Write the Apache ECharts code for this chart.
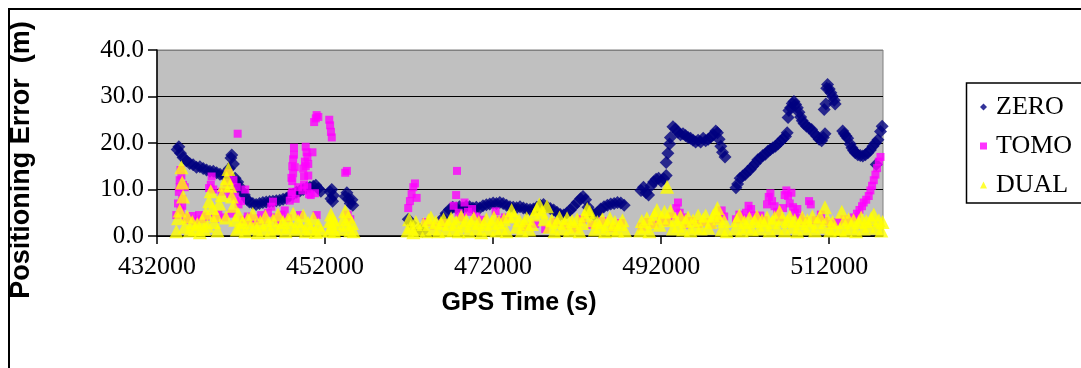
<!DOCTYPE html>
<html>
<head>
<meta charset="utf-8">
<script src="https://cdn.jsdelivr.net/npm/echarts@6/dist/echarts.min.js"></script>
<style>
  html, body { margin: 0; padding: 0; background: #fff; }
  #chart { width: 1081px; height: 368px; }
</style>
</head>
<body>
<div id="chart"></div>
<script>
// Positioning error (m) against GPS time of week (s) for three ionosphere models.
const seriesNames = ['ZERO', 'TOMO', 'DUAL'];
const xTicks = [432000, 452000, 472000, 492000, 512000];
const yTicks = [0, 10, 20, 30, 40];

// [GPS time (s), positioning error (m)]
const zeroPoints = [
  [434400,18.6],[434600,19.2],[434800,17.8],[435100,16.9],[435500,16.2],[435900,15.6],[436300,15.3],
  [436700,14.8],[437100,14.9],[437500,14.5],[437900,14.2],[438300,13.9],[438700,13.9],[439100,13.6],
  [439500,13.3],[439900,13.1],[440300,12.9],[440600,14.5],[440800,16.8],[440900,17.4],[441100,15.5],
  [441300,12.4],[441600,11.6],[441800,10.7],[442100,9.7],[442400,8.8],[442700,7.9],[443000,7.3],
  [443400,7.0],[443800,6.8],[444200,7.0],[444600,7.2],[445000,7.3],[445400,7.4],[445800,7.5],
  [446200,7.6],[446600,7.7],[447000,7.9],[447400,8.1],[447800,8.6],[448200,9.0],[448600,9.4],
  [449000,9.7],[449400,10.0],[449800,10.3],[450200,10.5],[450600,10.7],[450900,10.9],[451200,10.2],
  [451500,9.6],
  [452600,9.5],[452700,8.0],[452800,10.0],[452900,7.5],[453000,8.7],
  [454400,8.5],[454600,9.3],[454800,8.0],[455000,7.0],[455200,7.8],[455300,6.6],
  [461900,3.6],[462200,2.8],[463300,1.4],[463600,1.0],
  [466000,3.8],[466400,4.9],[466800,5.7],[467200,6.2],[467600,6.0],[468000,6.3],[468400,6.1],
  [468800,6.4],[469200,6.3],[469600,6.0],[470000,6.2],[470400,6.0],[470800,6.5],[471200,6.7],
  [471600,6.9],[472000,7.1],[472400,7.0],[472800,7.2],[473200,7.0],[473600,6.6],[474000,6.3],
  [474400,6.2],[474800,6.1],[475200,6.3],[475600,6.0],[476000,5.8],[476400,5.7],[476800,5.8],
  [477200,6.2],[477600,6.6],[478000,6.8],[478400,6.3],[478800,5.9],[479200,5.6],[479600,5.1],
  [480000,4.6],[480400,4.5],[480800,5.0],[481200,5.6],[481600,6.4],[482000,7.2],[482400,8.0],
  [482700,8.5],[483000,7.8],[483300,6.2],[483600,5.0],[484000,4.6],[484400,5.0],[484800,5.8],
  [485200,6.3],[485600,6.6],[486000,6.9],[486400,7.0],[486800,7.2],[487200,7.1],[487600,6.6],
  [489600,9.8],[489900,10.5],[490200,9.3],[490500,8.8],[490800,10.8],[491100,11.6],[491400,12.2],
  [491700,12.4],[492000,11.8],[492300,12.3],[492600,13.0],[492600,15.8],[492800,17.8],[493000,19.8],
  [493100,21.2],[493400,23.5],[493700,23.0],[494000,22.3],[494300,21.8],[494600,22.0],[494900,21.6],
  [495200,21.2],[495500,21.0],[495800,20.6],[496100,20.2],[496400,20.6],[496700,20.2],[497000,21.0],
  [497300,20.5],[497600,20.8],[497900,21.3],[498200,21.8],[498500,22.6],[498700,22.2],[498900,20.8],
  [499100,19.3],[499300,18.0],[499600,17.0],
  [500900,10.4],[501100,11.2],[501400,12.4],[501700,12.9],[502000,13.2],[502300,13.9],[502600,14.3],
  [502900,15.0],[503200,15.6],[503500,16.4],[503800,16.7],[504100,17.3],[504400,17.6],[504700,18.2],
  [505000,18.6],[505300,19.0],[505600,19.3],[505900,19.8],[506200,20.4],[506500,20.9],[506800,21.4],
  [507000,22.2],[507100,25.5],[507200,27.0],[507400,27.6],[507600,28.5],[507800,28.9],[508000,28.3],
  [508200,27.6],[508400,26.6],[508600,25.6],[508800,24.8],[509000,24.2],[509300,23.6],[509600,23.2],
  [509900,22.9],[510200,22.1],[510500,21.5],[510800,20.8],[511100,20.5],[511300,21.2],[511500,22.0],
  [511400,27.2],[511600,28.4],[511700,31.8],[511800,32.6],[512000,31.6],[512200,30.8],[512400,30.0],
  [512600,29.2],[512700,28.4],
  [513600,22.6],[513800,22.0],[514000,21.5],[514200,21.0],[514500,19.8],[514700,19.0],[514900,18.4],
  [515100,17.9],[515400,17.5],[515700,17.3],[516000,17.2],[516300,17.5],[516600,17.9],[516900,18.5],
  [517200,19.3],[517500,20.0],[517600,15.4],[517800,20.7],[518100,22.5],[518300,23.6]
];

const tomoPoints = [
  [434300,4.5],[434500,7.0],[434600,9.5],[434700,12.0],[434700,10.5],[434800,14.2],[434800,5.5],
  [434900,13.0],[435000,8.0],[435000,6.5],[435100,11.0],[435300,10.5],[435400,4.0],[435800,3.5],
  [436200,4.3],[436600,3.2],[437000,4.5],[437400,3.6],[437800,4.2],[438200,10.3],[438400,11.0],
  [438500,12.8],[438700,10.0],[438900,3.8],[439300,4.6],[439700,9.5],[440000,4.0],[440300,11.5],
  [440500,13.5],[440700,9.0],[440900,4.8],[441100,12.0],[441300,8.5],[441500,10.5],[441600,22.0],
  [441700,6.8],[442000,7.5],[442300,3.5],[442500,10.0],[442800,4.2],[443200,3.0],[443600,3.8],
  [444000,3.2],[444400,4.5],[444800,3.5],[445200,5.0],[445600,6.3],[445800,7.4],[446000,4.0],
  [446400,3.3],[446800,4.6],[447200,5.5],[447600,3.8],[447800,7.6],[448000,9.0],[448000,12.5],
  [448100,11.8],[448100,15.0],[448100,9.5],[448200,13.5],[448200,16.5],[448300,19.0],[448300,17.5],
  [448400,14.8],[448500,8.0],[448800,10.5],[449000,4.5],[449300,9.8],[449400,14.5],[449500,12.8],
  [449500,11.0],[449600,16.0],[449700,19.2],[449700,15.0],[449800,18.0],[449900,17.0],[449900,10.5],
  [450000,13.0],[450000,15.5],[450100,9.0],[450300,8.8],[450500,18.0],[450700,24.5],[450900,25.3],
  [451000,26.0],[451200,25.6],[450800,9.2],[451000,4.5],[452500,25.0],[452600,23.8],[452700,22.4],
  [452800,21.2],[454400,13.6],[454600,14.0],[454700,4.6],[455000,3.6],
  [461900,6.0],[462100,7.5],[462300,9.0],[462500,10.5],[462700,11.3],[462900,8.2],
  [464000,3.0],[465000,2.2],[466000,2.8],
  [467300,6.5],[467600,8.8],[467700,14.0],[467900,5.0],[468200,4.0],[468600,7.2],[469000,5.2],
  [469500,5.8],[470000,4.2],[470600,3.5],[472300,5.3],[472800,3.4],[473400,4.0],
  [475800,2.0],[477000,2.6],[478200,1.5],[479400,3.0],[480600,2.2],[481800,1.6],[482600,3.6],
  [483800,2.4],[485000,3.2],[486200,1.8],[487200,2.8],
  [489700,2.0],[490400,3.0],[491200,2.5],[492000,3.5],[492600,3.0],[493200,4.2],[493800,6.0],
  [494000,7.2],[494200,5.0],[494600,4.0],[495000,2.5],[495600,3.2],[496400,2.6],[497200,3.0],
  [498000,2.4],[498800,3.6],[499200,5.5],[499500,4.2],
  [500900,3.6],[501300,4.6],[501700,3.8],[502100,5.0],[502400,6.5],[502700,5.8],[503000,4.4],
  [503400,3.8],[503800,4.4],[504200,3.4],[504600,6.8],[504800,8.4],[505000,9.2],[505200,7.5],
  [505500,6.4],[505800,5.2],[506100,4.0],[506500,6.0],[506700,8.8],[506900,9.8],[507100,8.6],
  [507300,7.0],[507500,9.3],[507700,6.2],[507900,5.0],[508200,5.8],[508500,4.0],[509000,3.2],
  [509600,7.5],[509800,6.8],[510400,3.4],[511000,4.6],[511400,3.2],[512200,2.6],[513000,3.0],
  [513800,3.6],[514400,3.0],[514900,4.0],[515300,4.8],[515600,5.6],[515900,6.4],[516100,7.2],
  [516400,7.8],[516700,8.6],[516900,9.8],[517100,10.8],[517300,12.0],[517500,13.2],[517700,14.6],
  [517900,16.0],[518100,17.0]
];

const dualPoints = [
  [434300,1.0],[434500,3.8],[434700,5.5],[434900,14.8],[435000,11.5],[435100,8.5],[435300,2.0],
  [435600,4.2],[435900,1.2],[436200,3.0],[436500,1.5],[436800,2.6],[437100,0.8],[437400,3.2],
  [437600,1.5],[437800,5.0],[438000,2.2],[438200,7.5],[438400,9.6],[438600,6.0],[438800,3.0],
  [439000,4.5],[439200,1.2],[439400,7.0],[439700,8.8],[440000,11.0],[440200,4.0],[440300,12.5],
  [440500,14.4],[440700,10.8],[440900,8.5],[441100,6.5],[441300,3.5],[441500,1.4],[441700,4.6],
  [441900,2.0],[442200,3.0],[442500,1.0],[442800,3.6],[443100,1.8],[443400,4.8],[443700,2.2],
  [444000,0.8],[444300,3.0],[444600,1.4],[444900,4.2],[445200,2.5],[445500,0.9],[445800,3.4],
  [446100,1.6],[446400,4.6],[446700,2.0],[447000,3.0],[447300,1.0],[447600,3.6],[447900,2.0],
  [448200,4.8],[448500,1.4],[448800,3.2],[449100,2.0],[449400,4.4],[449700,1.0],[450000,2.8],
  [450300,1.6],[450600,3.8],[450900,0.9],[451200,2.4],[451500,1.2],
  [452500,1.2],[452600,3.2],[452700,4.6],[452800,2.0],[452900,3.6],[453100,1.0],[453200,2.8],
  [454000,1.5],[454200,3.6],[454400,5.3],[454600,2.4],[454800,4.2],[455000,1.2],[455200,2.8],
  [455400,1.0],
  [461800,1.2],[462000,3.6],[462200,2.0],[462500,0.8],[462800,3.0],[463100,1.4],[463700,2.6],
  [464000,1.0],[464300,3.4],[464600,4.0],[464900,1.6],[465200,3.0],[465500,1.0],[465800,2.8],
  [466100,3.6],[466400,1.2],[466700,2.6],[467000,3.8],[467300,1.4],[467600,3.0],[467900,1.0],
  [468200,4.2],[468500,2.2],[468800,3.4],[469100,1.0],[469400,2.8],[469700,3.8],[470000,1.6],
  [470300,3.0],[470600,0.8],[470900,2.6],[471200,3.6],[471500,1.4],[471800,2.8],[472100,4.0],
  [472400,1.2],[472700,3.0],[473000,1.8],[473300,3.6],[473600,1.0],[473900,4.2],[474200,5.6],
  [474500,4.4],[474800,2.0],[475100,3.4],[475400,1.2],[475700,2.8],[476000,3.8],[476300,1.4],
  [476600,2.6],[476900,4.6],[477200,5.8],[477500,6.8],[477800,5.2],[478100,3.6],[478400,6.4],
  [478700,2.0],[479000,3.4],[479300,1.0],[479600,3.0],[479900,4.0],[480200,1.6],[480500,2.8],
  [480800,3.8],[481100,1.2],[481400,3.2],[481700,2.0],[482000,3.6],[482300,1.0],[482600,2.8],
  [482900,4.4],[483200,5.8],[483500,5.2],[483800,3.4],[484100,1.4],[484400,3.0],[484700,2.0],
  [485000,3.6],[485300,1.0],[485600,2.6],[485900,3.8],[486200,1.6],[486500,3.0],[486800,1.2],
  [487100,2.6],[487400,3.4],[487700,1.2],
  [489500,1.2],[489700,3.2],[490000,2.0],[490300,3.8],[490600,1.0],[490900,3.0],[491200,4.6],
  [491500,5.6],[491800,2.4],[492100,4.0],[492400,5.2],[492700,10.6],[492800,3.4],[493100,5.4],
  [493400,1.6],[493700,3.6],[494000,2.2],[494300,4.2],[494600,1.4],[494900,3.2],[495200,4.0],
  [495500,1.2],[495800,3.4],[496100,2.0],[496400,4.4],[496700,1.6],[497000,3.6],[497300,4.4],
  [497600,1.8],[497900,3.0],[498200,4.4],[498500,5.0],[498700,6.0],[498900,3.8],[499200,1.4],
  [499500,3.2],[499800,1.0],
  [500800,1.6],[501000,3.4],[501300,4.4],[501600,1.2],[501900,3.0],[502200,2.0],[502500,3.8],
  [502800,1.4],[503100,3.2],[503400,4.2],[503700,1.6],[504000,3.4],[504300,2.4],[504600,4.0],
  [504900,1.2],[505200,3.0],[505500,4.0],[505800,1.8],[506100,5.2],[506400,3.6],[506700,1.2],
  [507000,3.2],[507300,4.2],[507600,2.0],[507900,3.4],[508200,1.0],[508500,2.8],[508800,4.0],
  [509100,1.6],[509400,3.4],[509700,2.2],[510000,4.2],[510300,1.2],[510600,3.0],[510900,4.2],
  [511200,2.0],[511500,6.2],[511800,3.6],[512100,1.2],[512400,3.0],[512600,1.6],
  [513300,1.4],[513500,5.2],[513700,3.0],[514000,1.2],[514300,3.6],[514600,2.0],[514900,3.4],
  [515200,1.0],[515500,3.0],[515800,4.0],[516100,1.6],[516400,3.2],[516700,2.2],[517000,3.8],
  [517300,4.6],[517600,1.8],[517900,3.4],[518200,1.2],[518350,3.0]
];

const chart = echarts.init(document.getElementById('chart'), null, { renderer: 'canvas' });

const serif = 'Liberation Serif, Times New Roman, serif';
const sans = 'Liberation Sans, Arial, sans-serif';

chart.setOption({
  animation: false,
  backgroundColor: '#ffffff',
  grid: {
    left: 157, top: 50, right: 198, bottom: 132,
    show: true,
    backgroundColor: '#C0C0C0',
    borderColor: '#808080',
    borderWidth: 1
  },
  legend: {
    orient: 'vertical',
    left: 966, top: 83,
    padding: [11, 0, 8, 14],
    itemGap: 13,
    itemWidth: 7, itemHeight: 7,
    textStyle: { fontFamily: serif, fontSize: 26, color: '#000', padding: [0, 0, 0, 4] },
    data: [
      { name: 'ZERO', icon: 'diamond' },
      { name: 'TOMO', icon: 'rect' },
      { name: 'DUAL', icon: 'triangle' }
    ]
  },
  xAxis: {
    type: 'value',
    min: 432000, max: 518400, interval: 20000,
    axisLine: { show: true, lineStyle: { color: '#000', width: 1.5 } },
    axisTick: { show: true, length: 8, lineStyle: { color: '#000', width: 1.5 }, customValues: xTicks },
    axisLabel: {
      customValues: xTicks,
      margin: 18,
      fontFamily: serif, fontSize: 26, color: '#000',
      formatter: v => String(v)
    },
    splitLine: { show: false }
  },
  yAxis: {
    type: 'value',
    min: 0, max: 40, interval: 10,
    axisLine: { show: true, lineStyle: { color: '#000', width: 1.5 } },
    axisTick: { show: true, length: 9, lineStyle: { color: '#000', width: 1.5 } },
    axisLabel: {
      margin: 13,
      fontFamily: serif, fontSize: 25, color: '#000',
      formatter: v => v.toFixed(1)
    },
    splitLine: { show: true, lineStyle: { color: ['#000', '#000', '#000', '#000', '#808080'], width: 1 } }
  },
  series: [
    {
      name: 'ZERO', type: 'scatter', data: zeroPoints,
      symbol: 'diamond', symbolSize: 13, clip: false,
      itemStyle: { color: '#000080' }
    },
    {
      name: 'TOMO', type: 'scatter', data: tomoPoints,
      symbol: 'rect', symbolSize: 8, clip: false,
      itemStyle: { color: '#FF00FF' }
    },
    {
      name: 'DUAL', type: 'scatter', data: dualPoints,
      symbol: 'triangle', symbolSize: [14, 14], clip: false,
      itemStyle: { color: '#FFFF00' }
    }
  ],
  graphic: [
    {
      type: 'polyline', silent: true,
      shape: { points: [[1081, 9], [9, 9], [9, 368]] },
      style: { fill: null, stroke: '#000', lineWidth: 2 }
    },
    {
      // legend frame, open on the right where it runs past the canvas
      type: 'polyline', silent: true,
      shape: { points: [[1081, 83], [966.5, 83], [966.5, 203], [1081, 203]] },
      style: { fill: null, stroke: '#000', lineWidth: 1.5 }
    },
    {
      type: 'text', x: 22, y: 160, rotation: Math.PI / 2,
      style: {
        text: 'Positioning Error  (m)', fontFamily: sans, fontWeight: 'bold', fontSize: 27,
        fill: '#000', align: 'center', verticalAlign: 'middle'
      }
    },
    {
      type: 'text', x: 519, y: 303,
      style: {
        text: 'GPS Time (s)', fontFamily: sans, fontWeight: 'bold', fontSize: 25,
        fill: '#000', align: 'center', verticalAlign: 'middle'
      }
    }
  ]
});
</script>
</body>
</html>
